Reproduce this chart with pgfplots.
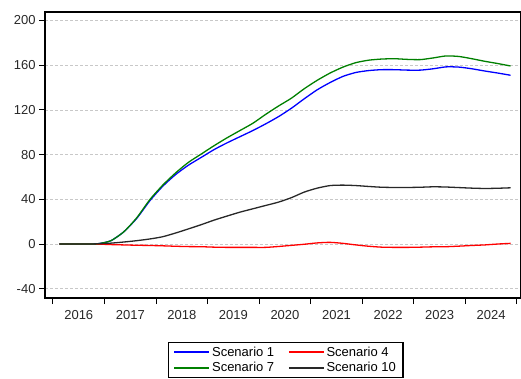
\documentclass[border=0pt]{standalone}
\usepackage{pgfplots}
\pgfplotsset{compat=1.18}
\usepackage{pgfplotstable}
\usepackage{fontspec}
\setmainfont{Liberation Sans}
\definecolor{sgreen}{RGB}{0,128,0}
\definecolor{sblack}{RGB}{40,40,40}
\definecolor{gridc}{RGB}{200,200,200}
\pgfplotstableread{
x s1 s4 s7 s10
2016.125 0 0 0 0
2016.375 0 0 0 0
2016.625 0 0 0 0
2016.875 0.3 -0.1 0.3 0.2
2017.125 3 -0.5 3 0.8
2017.375 11 -0.8 11 1.8
2017.625 23 -1.1 23.5 3
2017.875 38.5 -1.3 39.5 4.5
2018.125 51.5 -1.6 52.5 6.5
2018.375 62 -2 63.5 9.8
2018.625 70.5 -2.3 73 13.5
2018.875 77.5 -2.4 80.5 17.3
2019.125 84.5 -2.8 88 21.4
2019.375 90.5 -3 95 25
2019.625 96 -3 101.5 28.5
2019.875 101.5 -3 108 31.5
2020.125 107.5 -3 116 34.5
2020.375 114 -2.2 123.5 37.5
2020.625 121.5 -1.2 130.5 41.5
2020.875 130 -0.2 139 46.5
2021.125 138 1 146.5 50
2021.375 144.5 1.5 153 52.3
2021.625 150 0.6 158.3 52.7
2021.875 153.5 -0.8 162.3 52.3
2022.125 155.2 -2 164.5 51.5
2022.375 156 -2.8 165.5 50.8
2022.625 156 -3 165.8 50.6
2022.875 155.6 -3 165.2 50.6
2023.125 155.6 -2.8 165 50.8
2023.375 156.8 -2.5 166.5 51.2
2023.625 158.5 -2.4 168.3 51
2023.875 158.3 -1.9 167.8 50.5
2024.125 156.8 -1.3 165.8 50
2024.375 154.8 -0.8 163.5 49.7
2024.625 153 0 161.5 49.9
2024.875 151 0.6 159.3 50.3
}\data
\begin{document}
\begin{tikzpicture}
\useasboundingbox (-45pt,-80pt) rectangle (476pt,298pt);
\begin{axis}[
  scale only axis,
  width=476pt, height=286pt,
  xmin=2015.845, xmax=2025.078,
  ymin=-48.3, ymax=207.6,
  xtick={2016,...,2025},
  x tick label as interval=true,
  minor x tick num=3,
  ytick={-40,0,40,80,120,160,200},
  xtick pos=bottom, ytick pos=left,
  tick align=outside,
  major tick length=6pt, minor tick length=3.5pt,
  every tick/.style={black, line width=1pt},
  axis line style={line width=1.5pt, black},
  ymajorgrids,
  grid style={gridc, line width=0.8pt, dash pattern=on 3pt off 2pt},
  /pgf/number format/assume math mode=true,
  /pgf/number format/1000 sep={},
  tick label style={font=\fontsize{13}{15}\selectfont, color=sblack},
  xticklabel style={yshift=-3pt},
  legend columns=2,
  legend style={at={(0.506,-0.154)}, anchor=north, draw=black, line width=1.2pt,
    font=\fontsize{13}{15}\selectfont, inner xsep=5pt, inner ysep=2pt,
    row sep=1pt,
    /tikz/every even column/.append style={column sep=12pt}},
  legend cell align=left,
  legend image code/.code={\draw[#1] (0pt,0pt) -- (35pt,0pt);},
]
\addplot[blue, line width=1.3pt, smooth, tension=0.4] table[x=x,y=s1] {\data};
\addlegendentry{Scenario 1}
\addplot[red, line width=1.3pt, smooth, tension=0.4] table[x=x,y=s4] {\data};
\addlegendentry{Scenario 4}
\addplot[sgreen, line width=1.3pt, smooth, tension=0.4] table[x=x,y=s7] {\data};
\addlegendentry{Scenario 7}
\addplot[sblack, line width=1.3pt, smooth, tension=0.4] table[x=x,y=s10] {\data};
\addlegendentry{Scenario 10}
\end{axis}
\end{tikzpicture}
\end{document}
